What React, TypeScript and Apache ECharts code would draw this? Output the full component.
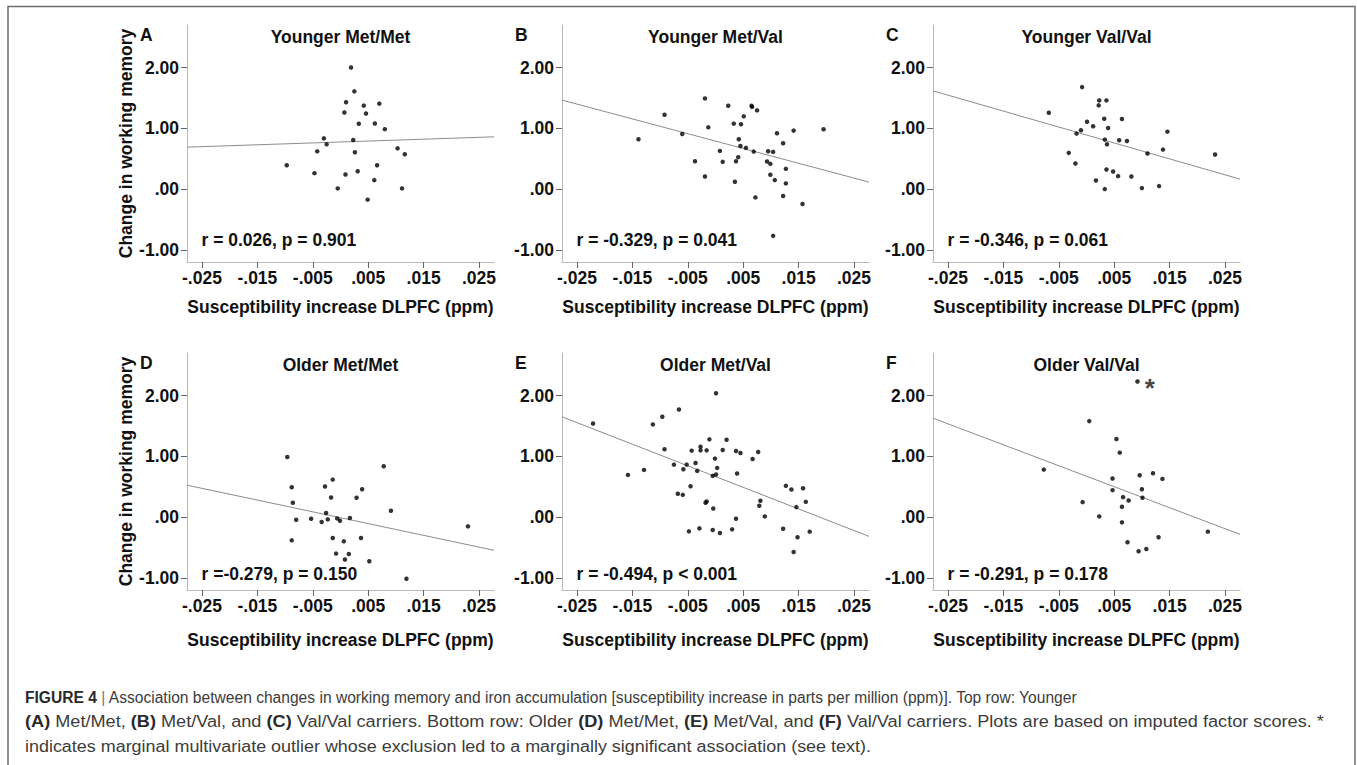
import React, { useEffect, useRef } from "react";
import * as echarts from "echarts";

// ---------- data ----------
const panelLetters = ["A", "B", "C", "D", "E", "F"];
const panelTitles = [
  "Younger Met/Met",
  "Younger Met/Val",
  "Younger Val/Val",
  "Older Met/Met",
  "Older Met/Val",
  "Older Val/Val",
];
const statTexts = [
  "r = 0.026, p = 0.901",
  "r = -0.329, p = 0.041",
  "r = -0.346, p = 0.061",
  "r =-0.279, p = 0.150",
  "r = -0.494, p < 0.001",
  "r = -0.291, p = 0.178",
];
const xTickValues = [-0.025, -0.015, -0.005, 0.005, 0.015, 0.025];
const yTickValues = [-1, 0, 1, 2];
const xTitle = "Susceptibility increase DLPFC (ppm)";
const yTitle = "Change in working memory";

const youngerMetMet = [
  [0.0019, 2.0], [0.0025, 1.608], [0.001, 1.428], [0.0007, 1.259], [0.0042, 1.373],
  [0.0046, 1.243], [0.007, 1.406], [0.0033, 1.074], [0.0062, 1.079], [0.008, 0.986],
  [-0.003, 0.834], [-0.0025, 0.736], [0.0023, 0.807], [-0.0042, 0.621], [0.0026, 0.605],
  [0.0103, 0.67], [0.0116, 0.572], [-0.0097, 0.392], [-0.0047, 0.262], [0.0009, 0.24],
  [0.0031, 0.294], [0.0066, 0.392], [0.0061, 0.147], [-0.0005, 0.011], [0.0111, 0.011],
  [0.0049, -0.174],
];
const youngerMetVal = [
  [-0.0139, 0.82], [-0.0092, 1.224], [-0.006, 0.907], [-0.0019, 1.492], [-0.0013, 1.016],
  [-0.0037, 0.459], [-0.0019, 0.208], [0.0023, 1.372], [0.0033, 1.077], [0.0046, 1.066],
  [0.0051, 1.197], [0.0065, 1.372], [0.0066, 1.352], [0.0075, 1.295], [0.0042, 0.82],
  [0.0045, 0.71], [0.0055, 0.678], [0.0069, 0.617], [0.0008, 0.628], [0.0013, 0.448],
  [0.0041, 0.525], [0.0037, 0.459], [0.0035, 0.12], [0.0095, 0.623], [0.0104, 0.612],
  [0.0093, 0.454], [0.0099, 0.415], [0.0111, 0.918], [0.0141, 0.962], [0.0195, 0.984],
  [0.0122, 0.754], [0.0127, 0.333], [0.0099, 0.235], [0.0107, 0.148], [0.0127, 0.093],
  [0.0072, -0.137], [0.0122, -0.115], [0.0157, -0.246], [0.0104, -0.77],
];
const youngerValVal = [
  [-0.0008, 1.678], [-0.0068, 1.257], [0.0023, 1.459], [0.0022, 1.377], [0.0036, 1.459],
  [0.0032, 1.158], [0.0064, 1.153], [0.0001, 1.109], [0.0012, 1.033], [0.0039, 1.005],
  [-0.001, 0.967], [-0.0018, 0.913], [0.0033, 0.814], [0.0037, 0.738], [0.0059, 0.803],
  [0.0073, 0.792], [0.0146, 0.945], [0.0138, 0.65], [0.011, 0.585], [0.0232, 0.568],
  [-0.0032, 0.596], [-0.002, 0.421], [0.0036, 0.322], [0.0048, 0.29], [0.0057, 0.213],
  [0.0081, 0.208], [0.0017, 0.142], [0.0033, 0.0], [0.01, 0.016], [0.0131, 0.049],
];
const olderMetMet = [
  [-0.0096, 0.989], [-0.0088, 0.492], [-0.0086, 0.235], [-0.0088, -0.383], [-0.008, -0.044],
  [-0.0053, -0.027], [-0.0034, -0.082], [-0.0028, 0.503], [-0.0014, 0.617], [-0.0017, 0.322],
  [-0.0026, 0.066], [-0.0023, -0.038], [-0.0006, -0.022], [-0.0001, -0.06], [0.0017, -0.016],
  [0.0029, 0.317], [0.0039, 0.459], [0.0078, 0.836], [0.0091, 0.104], [-0.0014, -0.344],
  [0.0006, -0.399], [0.0037, -0.344], [-0.0008, -0.601], [0.0008, -0.699], [0.0015, -0.607],
  [0.0052, -0.727], [0.0119, -1.016], [0.023, -0.153],
];
const olderMetVal = [
  [-0.0221, 1.541], [-0.0158, 0.694], [-0.0129, 0.776], [-0.0113, 1.525], [-0.0096, 1.65],
  [-0.0092, 1.115], [-0.0066, 1.77], [0.0001, 2.038], [-0.0075, 0.863], [-0.0052, 0.863],
  [-0.0058, 0.787], [-0.0043, 1.093], [-0.0036, 0.891], [-0.0033, 0.76], [-0.0027, 1.158],
  [-0.0027, 1.098], [-0.0016, 1.098], [-0.0011, 1.279], [0.002, 1.273], [0.0013, 1.104],
  [-0.0001, 0.962], [0.0003, 0.809], [-0.0005, 0.678], [0.0001, 0.7], [0.0037, 1.087],
  [0.0045, 1.055], [0.0039, 0.716], [0.0067, 0.956], [0.0077, 1.071], [-0.0045, 0.508],
  [-0.0068, 0.383], [-0.0059, 0.366], [-0.0018, 0.235], [-0.0016, 0.257], [-0.0004, 0.142],
  [0.0037, -0.027], [-0.0048, -0.235], [-0.0029, -0.186], [-0.0005, -0.213], [0.0008, -0.262],
  [0.003, -0.202], [0.0081, 0.268], [0.0079, 0.186], [0.0089, 0.011], [0.0127, 0.514],
  [0.0137, 0.454], [0.0158, 0.475], [0.0163, 0.251], [0.0146, 0.164], [0.0122, -0.191],
  [0.0148, -0.333], [0.017, -0.24], [0.0141, -0.574],
];
const olderValVal = [
  [0.0092, 2.23], [0.0005, 1.579], [0.0054, 1.284], [0.006, 1.06], [-0.0077, 0.781],
  [0.0047, 0.634], [0.0096, 0.689], [0.012, 0.721], [0.0137, 0.628], [0.0047, 0.443],
  [0.01, 0.459], [0.0066, 0.328], [0.0076, 0.273], [0.0101, 0.317], [-0.0007, 0.246],
  [0.0064, 0.169], [0.0023, 0.011], [0.0064, -0.087], [0.0219, -0.24], [0.013, -0.333],
  [0.0074, -0.415], [0.0094, -0.563], [0.0108, -0.525],
];
const outlierIndexOlderValVal = 0;

// regression line value at the left and right ends of the x range
const regLineLeft = [0.69, 1.464, 1.616, 0.525, 1.65, 1.628];
const regLineRight = [0.86, 0.115, 0.164, -0.546, -0.317, -0.284];

const captionLines = [
  "{b|FIGURE 4} {bar||} Association between changes in working memory and iron accumulation [susceptibility increase in parts per million (ppm)]. Top row: Younger",
  "{b|(A)} Met/Met, {b|(B)} Met/Val, and {b|(C)} Val/Val carriers. Bottom row: Older {b|(D)} Met/Met, {b|(E)} Met/Val, and {b|(F)} Val/Val carriers. Plots are based on imputed factor scores. *",
  "indicates marginal multivariate outlier whose exclusion led to a marginally significant association (see text).",
];

// ---------- layout / style ----------
const FONT = '"Liberation Sans", Arial, Helvetica, sans-serif';
const X_MIN = -0.0277;
const X_MAX = 0.0277;
const Y_MIN = -1.2;
const Y_MAX = 2.7;
const COL_LEFT = [187, 562, 933];
const ROW_TOP = [25, 353];
const GRID_W = 307;
const GRID_H = 237;
const X_NAME_GAP = [36, 41];
const TEXT_SIZE = 17.5;
const CAPTION_SIZE = 15.6;
const CAPTION_Y = [697, 722, 747];
const CAPTION_STRETCH = [1.0, 1.163, 1.15];

const fmtX = (v: number) => {
  const s = Math.abs(v).toFixed(3).replace(/^0/, "");
  return (v < 0 ? "-" : "") + s;
};
const fmtY = (v: number) => {
  const s = Math.abs(v).toFixed(2).replace(/^0/, "");
  return (v < 0 ? "-" : "") + s;
};

const allPoints = [youngerMetMet, youngerMetVal, youngerValVal, olderMetMet, olderMetVal, olderValVal];

export default function App() {
  const ref = useRef<HTMLDivElement>(null);
  useEffect(() => {
    if (!ref.current) return;
    const chart = echarts.init(ref.current, undefined, { renderer: "svg" });

    const grids: any[] = [];
    const xAxes: any[] = [];
    const yAxes: any[] = [];
    const series: any[] = [];
    const graphics: any[] = [];
    const boldText = { fontSize: TEXT_SIZE, fontWeight: "bold", color: "#111", fontFamily: FONT };

    allPoints.forEach((pts, i) => {
      const row = Math.floor(i / 3);
      const col = i % 3;
      const left = COL_LEFT[col];
      const top = ROW_TOP[row];
      grids.push({ left, top, width: GRID_W, height: GRID_H, containLabel: false });
      xAxes.push({
        gridIndex: i,
        type: "value",
        min: X_MIN,
        max: X_MAX,
        axisLine: { show: true, onZero: false, lineStyle: { color: "#b8b8b8", width: 1 } },
        axisTick: { show: true, customValues: xTickValues, length: 6, lineStyle: { color: "#666", width: 1 } },
        axisLabel: { customValues: xTickValues, formatter: fmtX, margin: 7, ...boldText },
        splitLine: { show: false },
        name: xTitle,
        nameLocation: "middle",
        nameGap: X_NAME_GAP[row],
        nameTextStyle: boldText,
      });
      yAxes.push({
        gridIndex: i,
        type: "value",
        min: Y_MIN,
        max: Y_MAX,
        axisLine: { show: true, onZero: false, lineStyle: { color: "#b8b8b8", width: 1 } },
        axisTick: { show: true, customValues: yTickValues, length: 6, lineStyle: { color: "#666", width: 1 } },
        axisLabel: { customValues: yTickValues, formatter: fmtY, margin: 8, ...boldText },
        splitLine: { show: false },
        name: col === 0 ? yTitle : "",
        nameLocation: "middle",
        nameRotate: 90,
        nameGap: 52,
        nameTextStyle: boldText,
      });
      series.push({
        type: "line",
        xAxisIndex: i,
        yAxisIndex: i,
        data: [
          [X_MIN, regLineLeft[i]],
          [X_MAX, regLineRight[i]],
        ],
        symbol: "none",
        silent: true,
        lineStyle: { color: "#8c8c8c", width: 1 },
        z: 1,
      });
      const data = pts.map((p, j) =>
        i === 5 && j === outlierIndexOlderValVal
          ? {
              value: p,
              label: {
                show: true,
                formatter: "*",
                position: "right",
                distance: 5,
                offset: [0, 6],
                fontSize: 26,
                fontWeight: "bold",
                color: "#111",
                fontFamily: FONT,
              },
            }
          : p
      );
      series.push({
        type: "scatter",
        xAxisIndex: i,
        yAxisIndex: i,
        data,
        symbol: "circle",
        symbolSize: 4.5,
        itemStyle: { color: "#000" },
        z: 3,
      });
      const textStyle = (text: string, align: string) => ({
        text,
        fontSize: TEXT_SIZE,
        fontWeight: "bold",
        fontFamily: FONT,
        fill: "#111",
        align,
        verticalAlign: "middle",
      });
      // panel title
      graphics.push({
        type: "text",
        x: left + GRID_W / 2,
        y: top + 11.5,
        style: textStyle(panelTitles[i], "center"),
      });
      // panel letter
      graphics.push({
        type: "text",
        x: left - 47,
        y: top + 9.5,
        style: textStyle(panelLetters[i], "left"),
      });
      // stat text
      graphics.push({
        type: "text",
        x: left + 14.5,
        y: top + (row === 0 ? 215 : 221),
        style: textStyle(statTexts[i], "left"),
      });
    });

    // caption
    captionLines.forEach((line, k) => {
      graphics.push({
        type: "text",
        x: 25,
        y: CAPTION_Y[k],
        scaleX: CAPTION_STRETCH[k],
        scaleY: 1,
        style: {
          text: line,
          fontSize: CAPTION_SIZE,
          fontFamily: FONT,
          fill: "#3c3c3c",
          align: "left",
          verticalAlign: "middle",
          rich: {
            b: { fontSize: CAPTION_SIZE, fontWeight: "bold", fontFamily: FONT, fill: "#2a2a2a" },
            bar: { fontSize: CAPTION_SIZE, fontFamily: FONT, fill: "#777" },
          },
        },
      });
    });

    // outer frame
    graphics.push({
      type: "rect",
      shape: { x: 8, y: 6.5, width: 1347, height: 820 },
      style: { fill: "none", stroke: "#6e6e6e", lineWidth: 1.5 },
      silent: true,
    });

    chart.setOption({
      animation: false,
      backgroundColor: "#ffffff",
      grid: grids,
      xAxis: xAxes,
      yAxis: yAxes,
      series,
      graphic: graphics,
    });
    return () => chart.dispose();
  }, []);

  return (
    <div
      ref={ref}
      style={{ position: "fixed", left: 0, top: 0, width: 1357, height: 765, background: "#fff" }}
    />
  );
}
